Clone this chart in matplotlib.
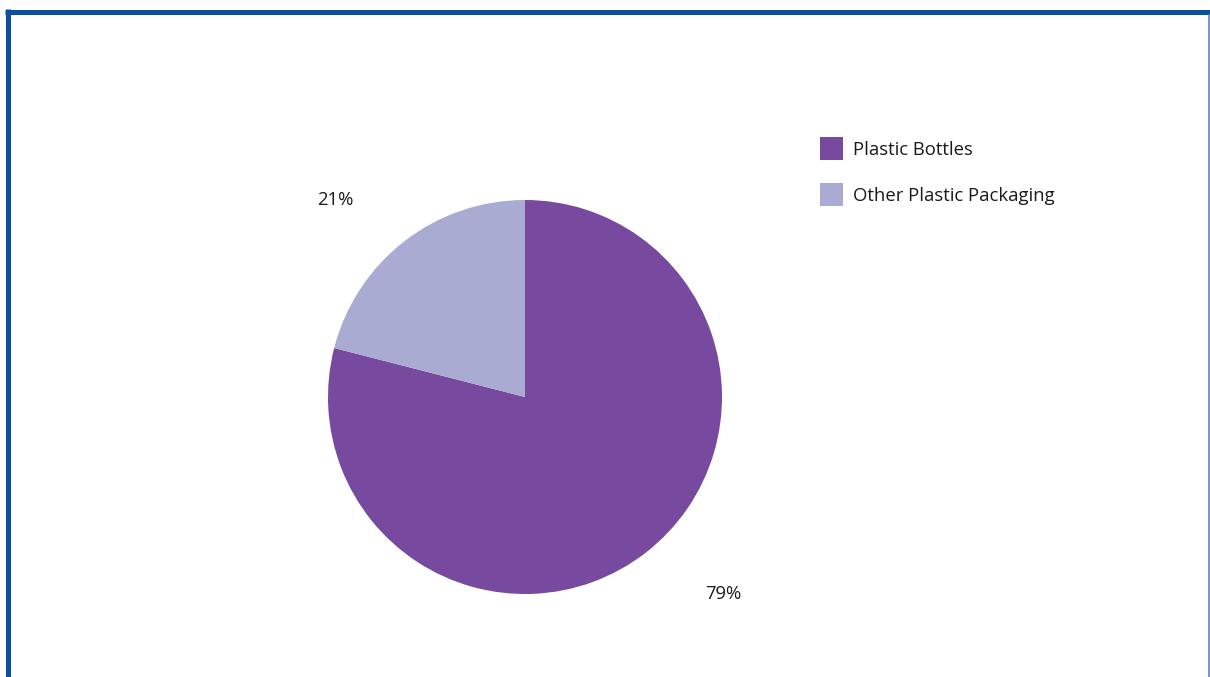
import matplotlib
matplotlib.use("Agg")
import matplotlib.pyplot as plt
from matplotlib.lines import Line2D

categories = ["Plastic Bottles", "Other Plastic Packaging"]
values = [79, 21]
colors = ["#774a9f", "#a9abd2"]
pct_labels = ["79%", "21%"]

plt.rcParams['font.family'] = ['Open Sans', 'DejaVu Sans']

W, H = 1210, 677
fig = plt.figure(figsize=(W / 100, H / 100), dpi=100)

cx, cy, r = 525, 397, 197
ax = fig.add_axes([(cx - r) / W, (H - cy - r) / H, 2 * r / W, 2 * r / H])
wedges, _ = ax.pie(values, colors=colors, startangle=90, counterclock=False,
                   wedgeprops=dict(linewidth=0))
ax.set_xlim(-1, 1)
ax.set_ylim(-1, 1)
ax.set_aspect('equal')
ax.axis('off')

fs = 13.3
# percentage labels
label_pos = [(1.005, -1.0), (-0.964, 1.0)]
for txt, (x, y) in zip(pct_labels, label_pos):
    ax.text(x, y, txt, ha='center', va='center', fontsize=fs, color='#1a1a1a')

fpx = fs * 100 / 72
fig.legend(wedges, categories, loc='upper left',
           bbox_to_anchor=(820 / W, 1 - 137 / H), frameon=False, fontsize=fs,
           handlelength=23 / fpx, handleheight=28.5 / fpx,
           labelspacing=23 / fpx, handletextpad=10 / fpx, borderpad=0,
           borderaxespad=0, labelcolor='#1a1a1a')

# border lines
blue = "#0b4fa0"
fig.add_artist(Line2D([7.5 / W, 7.5 / W], [0, 1 - 9 / H], color=blue, lw=5 * 0.72,
                      solid_capstyle='butt', transform=fig.transFigure))
fig.add_artist(Line2D([5 / W, 1], [1 - 11.5 / H, 1 - 11.5 / H], color=blue, lw=5 * 0.72,
                      solid_capstyle='butt', transform=fig.transFigure))
fig.add_artist(Line2D([1208.5 / W, 1208.5 / W], [0, 1 - 14 / H], color="#4a78b8", lw=1.5 * 0.72,
                      solid_capstyle='butt', transform=fig.transFigure))

fig.savefig("out.png", dpi=100)
